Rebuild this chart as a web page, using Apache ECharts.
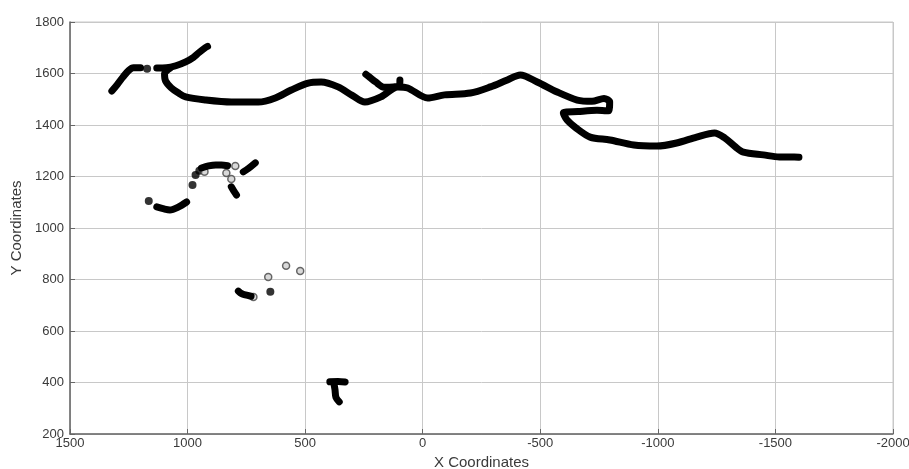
<!DOCTYPE html>
<html lang="en">
  <head>
    <meta charset="UTF-8" />
    <script src="https://cdn.jsdelivr.net/npm/echarts@6/dist/echarts.min.js"></script>
    <title>Coordinates</title>
    <style>
      html, body { margin: 0; background: #fff; }
      #app { width: 909px; height: 469px; }
    </style>
  </head>
  <body>
    <div id="app"></div>
    <script>
      // tracks, [x, y]
      const trackLeft = [[1322, 1532], [1300, 1556], [1275, 1586], [1250, 1612], [1230, 1622], [1200, 1622]];
      const trackUpper = [[1131, 1621], [1090, 1622], [1050, 1630], [1008, 1645], [975, 1663], [953, 1680], [925, 1700], [915, 1705]];
      const trackMain = [
        [1075, 1620], [1098, 1600], [1094, 1572], [1070, 1545], [1040, 1525], [1008, 1509], [924, 1497],
        [814, 1489], [699, 1489], [627, 1505], [559, 1536], [487, 1563], [432, 1567], [360, 1548],
        [300, 1515], [246, 1489], [178, 1509], [106, 1548], [64, 1544], [-21, 1505], [-93, 1517],
        [-203, 1524], [-288, 1548], [-360, 1575], [-415, 1594], [-487, 1567], [-572, 1528], [-657, 1497],
        [-720, 1492], [-771, 1503], [-795, 1490], [-790, 1455], [-741, 1457], [-660, 1452], [-598, 1447],
        [-614, 1419], [-650, 1390], [-712, 1353], [-796, 1342], [-898, 1322], [-996, 1318], [-1080, 1330],
        [-1165, 1353], [-1241, 1369], [-1284, 1350], [-1330, 1315], [-1364, 1295], [-1449, 1284],
        [-1517, 1276], [-1580, 1276], [-1600, 1275]
      ];
      const trackHook = [[242, 1597], [225, 1585], [200, 1567], [165, 1547], [125, 1548], [100, 1552], [97, 1575]];
      const trackMidLow = [[1131, 1082], [1100, 1074], [1075, 1070], [1038, 1082], [1004, 1101]];
      const trackMidTop = [[941, 1233], [911, 1241], [880, 1245], [856, 1245], [830, 1242]];
      const trackMidDrop = [[814, 1160], [803, 1143], [792, 1128]];
      const trackMidRight = [[763, 1218], [740, 1232], [712, 1253]];
      const trackLow = [[784, 755], [770, 745], [754, 740], [730, 735]];
      const trackBottomBar = [[395, 403], [360, 404], [330, 402]];
      const trackBottomStem = [[378, 398], [373, 372], [369, 342], [355, 325]];
      const tracks = [trackLeft, trackUpper, trackMain, trackHook, trackMidLow, trackMidTop,
        trackMidDrop, trackMidRight, trackLow, trackBottomBar, trackBottomStem];

      // single points
      const filledDots = [[1172, 1618], [1165, 1105], [979, 1167], [966, 1206], [950, 1222], [648, 752]];
      const openDots = [[928, 1218], [835, 1214], [797, 1241], [814, 1190], [720, 732], [657, 810], [581, 853], [521, 833]];

      const xTicks = { min: -2000, max: 1500, interval: 500 };
      const yTicks = { min: 200, max: 1800, interval: 200 };

      const labelFont = { color: "#3a3a3a", fontSize: 13, fontFamily: "Liberation Sans, Arial, sans-serif" };

      const chart = echarts.init(document.getElementById("app"), null, { renderer: "canvas" });

      const series = tracks.map((t) => ({
        type: "line",
        data: t,
        symbol: "none",
        smooth: 0.3,
        silent: true,
        lineStyle: { color: "#000", width: 7, cap: "round", join: "round" },
      }));
      series.push({
        type: "scatter",
        data: filledDots,
        symbolSize: 8,
        silent: true,
        itemStyle: { color: "#000" },
      });
      series.push({
        type: "scatter",
        data: openDots,
        symbolSize: 7,
        silent: true,
        itemStyle: { color: "#cfcfcf", borderColor: "#444", borderWidth: 1.5 },
      });

      chart.setOption({
        animation: false,
        grid: {
          left: 70, right: 16, top: 22, bottom: 35,
          outerBoundsMode: "none", containLabel: false,
          show: true, borderColor: "#c8c8c8", borderWidth: 1,
        },
        xAxis: {
          type: "value",
          inverse: true,
          min: xTicks.min,
          max: xTicks.max,
          interval: xTicks.interval,
          name: "X Coordinates",
          nameLocation: "middle",
          nameGap: 20,
          nameTextStyle: { ...labelFont, fontSize: 15 },
          axisLine: { show: true, onZero: false, lineStyle: { color: "#666", width: 1.5 } },
          axisTick: { show: true, inside: true, length: 5, lineStyle: { color: "#666" } },
          axisLabel: { ...labelFont, margin: 3, formatter: (v) => String(v) },
          splitLine: { show: true, lineStyle: { color: "#c8c8c8", width: 1 } },
        },
        yAxis: {
          type: "value",
          min: yTicks.min,
          max: yTicks.max,
          interval: yTicks.interval,
          name: "Y Coordinates",
          nameLocation: "middle",
          nameGap: 45,
          nameTextStyle: { ...labelFont, fontSize: 15 },
          axisLine: { show: true, onZero: false, lineStyle: { color: "#666", width: 1.5 } },
          axisTick: { show: true, inside: true, length: 5, lineStyle: { color: "#666" } },
          axisLabel: { ...labelFont, margin: 6, formatter: (v) => String(v) },
          splitLine: { show: true, lineStyle: { color: "#c8c8c8", width: 1 } },
        },
        series,
      });
    </script>
  </body>
</html>
